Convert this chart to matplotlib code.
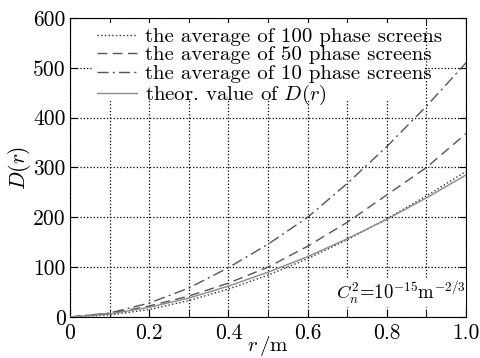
import numpy as np
import matplotlib
matplotlib.use("Agg")
import matplotlib.pyplot as plt
from matplotlib.patches import Rectangle

plt.rcParams['font.family'] = 'serif'
plt.rcParams['font.serif'] = ['cmr10', 'DejaVu Serif']
plt.rcParams['mathtext.fontset'] = 'cm'
plt.rcParams['axes.formatter.use_mathtext'] = True

r = [0.0, 0.1, 0.2, 0.3, 0.4, 0.5, 0.6, 0.7, 0.8, 0.9, 1.0]
avg100 = [0, 4, 15, 33, 56, 84, 117, 155, 197, 243, 292]
avg50 = [0, 7, 22, 42, 68, 100, 142, 190, 245, 300, 368]
avg10 = [0, 8, 28, 58, 99, 146, 200, 268, 342, 423, 510]
theory = [0, 6, 19.5, 38, 62, 90, 121, 157, 196, 239, 285]

labels = ["the average of 100 phase screens",
          "the average of 50 phase screens",
          "the average of 10 phase screens",
          r"theor. value of $D(r)$"]

fig = plt.figure(figsize=(4.81, 3.58), dpi=100)
ax = fig.add_axes([0.1455, 0.1145, 0.8235, 0.8355])
ax.set_axisbelow(True)

ax.plot(r, avg100, ':', color='#333333', lw=1.0, label=labels[0], zorder=3)
ax.plot(r, avg50, '--', color='#555555', lw=1.0, dashes=(7, 4), label=labels[1], zorder=3)
ax.plot(r, avg10, '-.', color='#555555', lw=1.0, dashes=(8, 3, 1.5, 3), label=labels[2], zorder=3)
ax.plot(r, theory, '-', color='#8a8a8a', lw=1.0, label=labels[3], zorder=3)

ax.set_xlim(0, 1.0)
ax.set_ylim(0, 600)
ax.set_xticks(np.arange(0, 1.01, 0.1), minor=True)
ax.set_xticks([0, 0.2, 0.4, 0.6, 0.8, 1.0])
ax.set_xticklabels(["0", "0.2", "0.4", "0.6", "0.8", "1.0"])
ax.set_yticks([0, 100, 200, 300, 400, 500, 600])
ax.set_yticklabels(["0", "100", "200", "300", "400", "500", "600"])
ax.tick_params(which='both', direction='in', top=True, right=True, labelsize=15.5)
ax.tick_params(which='major', length=5)
ax.tick_params(which='minor', length=5)
ax.tick_params(axis='x', pad=5)
ax.tick_params(axis='y', pad=3)
ax.grid(True, which='both', axis='x', linestyle=':', color='black', lw=0.9)
ax.grid(True, which='major', axis='y', linestyle=':', color='black', lw=0.9)

# white legend box (text runs past its right edge, as in the original)
ax.add_patch(Rectangle((0.058, 0.725), 0.838, 0.258, transform=ax.transAxes,
                       facecolor='white', edgecolor='none', zorder=1))

ax.set_xlabel(r"$r\,$/m", fontsize=15, labelpad=-7)
ax.set_ylabel(r"$D(r)$", fontsize=15.5, labelpad=0)

ax.text(0.998, 0.035, r"$C_n^2$=10$^{-15}$m$^{-2/3}$", transform=ax.transAxes,
        ha='right', va='bottom', fontsize=13.5,
        bbox=dict(facecolor='white', edgecolor='none', pad=0.5))

leg = ax.legend(loc='upper left', bbox_to_anchor=(0.045, 1.0), frameon=False, fontsize=15,
                labelspacing=0.0, handlelength=1.9, handletextpad=0.4, borderpad=0.15,
                borderaxespad=0.3)
leg.set_zorder(4)

fig.savefig("out.png", dpi=100)
